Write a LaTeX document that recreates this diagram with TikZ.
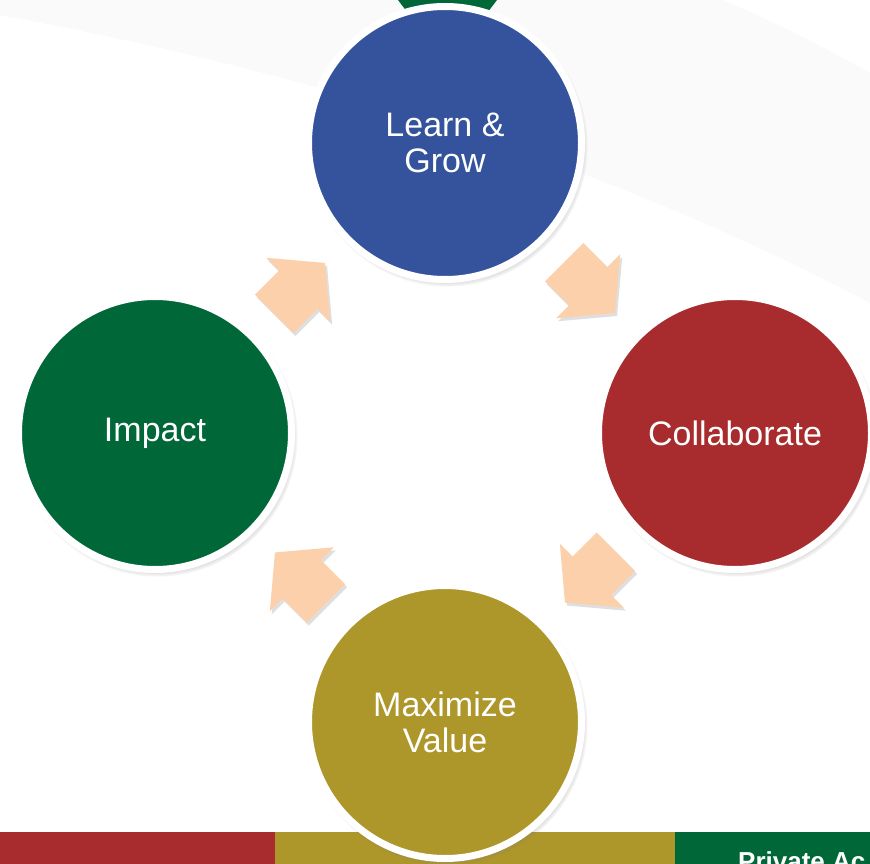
\documentclass[tikz,border=0pt]{standalone}
\usepackage{fontspec}
\setmainfont{Liberation Sans}
\usetikzlibrary{shapes.arrows,shadows,calc}

\definecolor{growblue}{RGB}{52,83,156}
\definecolor{teamred}{RGB}{168,44,46}
\definecolor{valueolive}{RGB}{173,150,42}
\definecolor{impactgreen}{RGB}{0,103,56}
\definecolor{turnpeach}{RGB}{253,208,172}
\definecolor{swoosh}{RGB}{250,250,250}

\begin{document}
\begin{tikzpicture}[x=1pt,y=-1pt,
		stage/.style={circle, draw=white, line width=7pt, minimum size=273pt, inner sep=0pt, align=center, text=white, font=\fontsize{34}{36}\selectfont, circular drop shadow={shadow scale=1.03, shadow xshift=2pt, shadow yshift=-3pt}},
		turn/.style={single arrow, fill=turnpeach, inner xsep=0pt, inner ysep=27pt, minimum height=72pt, single arrow head extend=18pt, single arrow tip angle=100, drop shadow={shadow xshift=2pt, shadow yshift=-3pt, opacity=0.25}}]
		\useasboundingbox (0,0) rectangle (870,864);
		\fill[white] (0,0) rectangle (870,864);
		\fill[swoosh] (0,0) -- (0,15) .. controls (300,70) and (600,160) .. (870,303) -- (870,73) .. controls (820,45) and (770,20) .. (723,0) -- cycle;
		\fill[impactgreen] (398,0) -- (497,0) -- (478,25) -- (417,25) -- cycle;
		\begin{scope}
			\clip (0,0) rectangle (870,864);
			\fill[teamred] (0,832) rectangle (275,864);
			\fill[valueolive] (275,832) rectangle (675,864);
			\fill[impactgreen] (675,832) rectangle (870,864);
			\node[anchor=base west, inner sep=0pt, text=white, font=\bfseries\fontsize{26}{28}\selectfont] (tag) at (738,870) {Private Ac};
		\end{scope}
		\node[stage, fill=growblue] (learn) at (445,143) {Learn \&\\Grow};
		\node[stage, fill=teamred] (collab) at (735,433) {Collaborate};
		\node[stage, fill=valueolive] (maxval) at (445,722) {Maximize\\Value};
		\node[stage, fill=impactgreen] (impact) at (155,433) {Impact};
		\node[turn, rotate=45] (impact2learn) at ($(impact)!0.5!(learn)!12pt!(impact)$) {};
		\node[turn, rotate=-45] (learn2collab) at ($(learn)!0.5!(collab)!12pt!(learn)$) {};
		\node[turn, rotate=-135] (collab2maxval) at ($(collab)!0.5!(maxval)!12pt!(collab)$) {};
		\node[turn, rotate=135] (maxval2impact) at ($(maxval)!0.5!(impact)!12pt!(maxval)$) {};
\end{tikzpicture}
\end{document}
